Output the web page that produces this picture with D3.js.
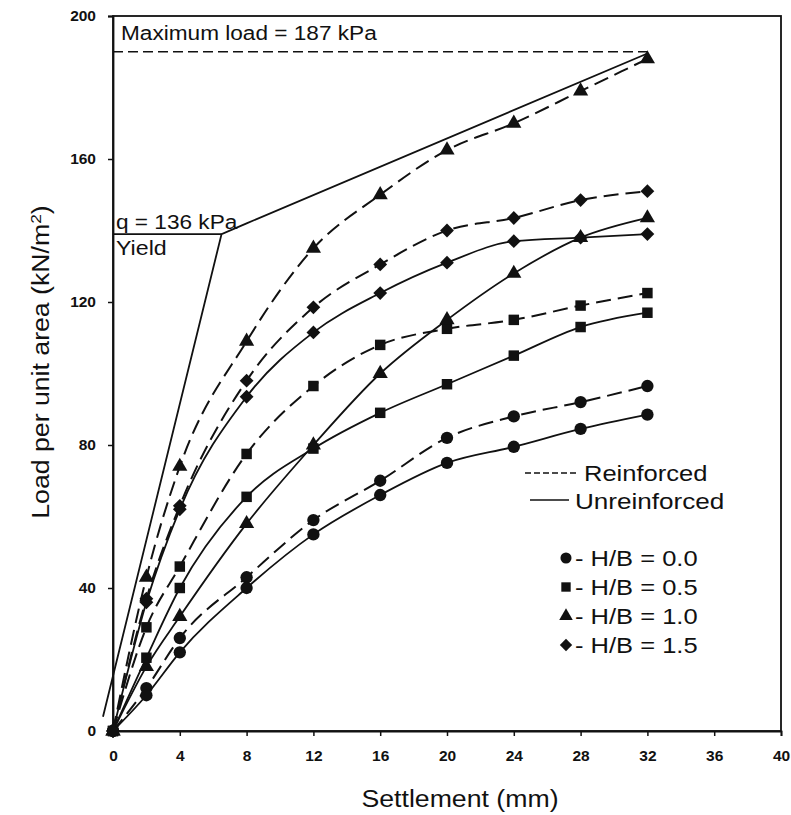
<!DOCTYPE html>
<html>
<head>
<meta charset="utf-8">
<script src="https://cdn.jsdelivr.net/npm/d3@7"></script>
<style>
  body { margin: 0; background: #fff; }
  svg { display: block; }
  text { font-family: Arial, "Liberation Sans", sans-serif; fill: #111; }
</style>
</head>
<body>
<svg id="chart" width="791" height="815"></svg>
<script>
// ---- data ----
const settlement = [0, 2, 4, 8, 12, 16, 20, 24, 28, 32];
const reinforced00 = [0, 12, 26, 43, 59, 70, 82, 88, 92, 96.5];
const unreinforced00 = [0, 10, 22, 40, 55, 66, 75, 79.5, 84.5, 88.5];
const reinforced05 = [0, 29, 46, 77.5, 96.5, 108, 112.5, 115, 119, 122.5];
const unreinforced05 = [0, 20.5, 40, 65.5, 79, 89, 97, 105, 113, 117];
const reinforced10 = [0, 43, 74, 109, 135, 150, 162.5, 170, 179, 188];
const unreinforced10 = [0, 18, 32, 58, 80, 100, 115, 128, 138, 143.5];
const reinforced15 = [0, 37, 63, 98, 118.5, 130.5, 140, 143.5, 148.5, 151];
const unreinforced15 = [0, 36, 62, 93.5, 111.5, 122.5, 131, 137, 138, 139];
const xTicks = [0, 4, 8, 12, 16, 20, 24, 28, 32, 36, 40];
const yTicks = [0, 40, 80, 120, 160, 200];
// construction lines
const yieldLineX = [-0.6, 6.5, 8, 32];
const yieldLineY = [4, 139, 142, 189.5];
const yieldLoad = 139;
const yieldSettlement = 6.5;
const maxLoadLevel = 190;
const maxLoadSettlement = 32;
const legendLabels = ["H/B = 0.0", "H/B = 0.5", "H/B = 1.0", "H/B = 1.5"];
const legendShapes = ["circle", "square", "triangle", "diamond"];

// ---- layout ----
const svg = d3.select("#chart");
const x = d3.scaleLinear().domain([0, 40]).range([113, 781]);
const y = d3.scaleLinear().domain([0, 200]).range([731, 16]);
const STRETCH = 1.16; // the original lettering is wider than Arial

function label(tx, ty, str, size, rot) {
  const g = svg.append("g")
    .attr("transform", `translate(${tx},${ty})${rot ? ` rotate(${rot})` : ""} scale(${STRETCH},1)`);
  return g.append("text").attr("x", 0).attr("y", 0).attr("font-size", size).text(str);
}

const symType = {
  circle: d3.symbolCircle, square: d3.symbolSquare,
  triangle: d3.symbolTriangle, diamond: d3.symbolSquare
};
const symRot = { circle: 0, square: 0, triangle: 0, diamond: 45 };
const symSize = { circle: 120, square: 110, triangle: 100, diamond: 95 };

// frame
svg.append("rect").attr("x", x(0)).attr("y", y(200))
  .attr("width", x(40) - x(0)).attr("height", y(0) - y(200))
  .attr("fill", "none").attr("stroke", "#111").attr("stroke-width", 1.8);

// axes
const xAxis = svg.append("g").attr("transform", `translate(0,${y(0)})`)
  .call(d3.axisBottom(x).tickValues(xTicks).tickSize(5).tickPadding(14));
const yAxis = svg.append("g").attr("transform", `translate(${x(0)},0)`)
  .call(d3.axisLeft(y).tickValues(yTicks).tickSize(5).tickPadding(12));
[xAxis, yAxis].forEach(g => {
  g.select(".domain").attr("stroke", "#111").attr("stroke-width", 1.8);
  g.selectAll(".tick line").attr("stroke", "#111").attr("stroke-width", 1.5);
  g.selectAll(".tick text").attr("font-size", 15.5).attr("font-weight", "bold")
    .attr("font-family", "Arial, 'Liberation Sans', sans-serif").attr("fill", "#111");
});

// axis titles
label(460, 807, "Settlement (mm)", 23).attr("text-anchor", "middle");
const yl = label(49, 362, "", 23, -90).attr("text-anchor", "middle");
yl.append("tspan").text("Load per unit area (kN/m");
yl.append("tspan").attr("dy", -8).attr("font-size", 15).text("2");
yl.append("tspan").attr("dy", 8).text(")");

// construction lines
const cl = d3.line().x(d => x(d[0])).y(d => y(d[1]));
svg.append("path").attr("d", cl(yieldLineX.map((v, i) => [v, yieldLineY[i]])))
  .attr("fill", "none").attr("stroke", "#111").attr("stroke-width", 1.8);
svg.append("path").attr("d", cl([[0, yieldLoad], [yieldSettlement, yieldLoad]]))
  .attr("fill", "none").attr("stroke", "#111").attr("stroke-width", 1.8);
svg.append("path").attr("d", cl([[0, maxLoadLevel], [maxLoadSettlement, maxLoadLevel]]))
  .attr("fill", "none").attr("stroke", "#111").attr("stroke-width", 1.6)
  .attr("stroke-dasharray", "10,5");

label(121, 40, "Maximum load = 187 kPa", 19.5);
label(116, 229, "q = 136 kPa", 19.5);
label(116, 255, "Yield", 20);

// series
const series = [
  { vals: reinforced00, shape: "circle", dashed: true },
  { vals: unreinforced00, shape: "circle", dashed: false },
  { vals: reinforced05, shape: "square", dashed: true },
  { vals: unreinforced05, shape: "square", dashed: false },
  { vals: reinforced10, shape: "triangle", dashed: true },
  { vals: unreinforced10, shape: "triangle", dashed: false },
  { vals: reinforced15, shape: "diamond", dashed: true },
  { vals: unreinforced15, shape: "diamond", dashed: false }
];
const line = d3.line().x(d => x(d[0])).y(d => y(d[1])).curve(d3.curveMonotoneX);
series.forEach(s => {
  const pts = settlement.map((v, i) => [v, s.vals[i]]);
  svg.append("path").attr("d", line(pts)).attr("fill", "none")
    .attr("stroke", "#111").attr("stroke-width", s.dashed ? 2 : 1.8)
    .attr("stroke-dasharray", s.dashed ? "15,7" : null);
  svg.append("g").selectAll("path").data(pts).join("path")
    .attr("transform", d => `translate(${x(d[0])},${y(d[1])}) rotate(${symRot[s.shape]})`)
    .attr("d", d3.symbol().type(symType[s.shape]).size(symSize[s.shape]))
    .attr("fill", "#111");
});

// legend: line styles
svg.append("line").attr("x1", 525).attr("x2", 577).attr("y1", 473).attr("y2", 473)
  .attr("stroke", "#111").attr("stroke-width", 1.6).attr("stroke-dasharray", "6,3");
label(584, 481, "Reinforced", 22);
svg.append("line").attr("x1", 530).attr("x2", 569).attr("y1", 500).attr("y2", 500)
  .attr("stroke", "#111").attr("stroke-width", 1.6);
label(575, 509, "Unreinforced", 22.5);

// legend: markers
const legY = [558, 587, 616, 645];
legendLabels.forEach((lab, i) => {
  const sh = legendShapes[i];
  svg.append("path").attr("transform", `translate(566,${legY[i]}) rotate(${symRot[sh]})`)
    .attr("d", d3.symbol().type(symType[sh]).size(symSize[sh] * 0.8)).attr("fill", "#111");
  label(575, legY[i] + 8, "- " + lab, 22);
});
</script>
</body>
</html>
